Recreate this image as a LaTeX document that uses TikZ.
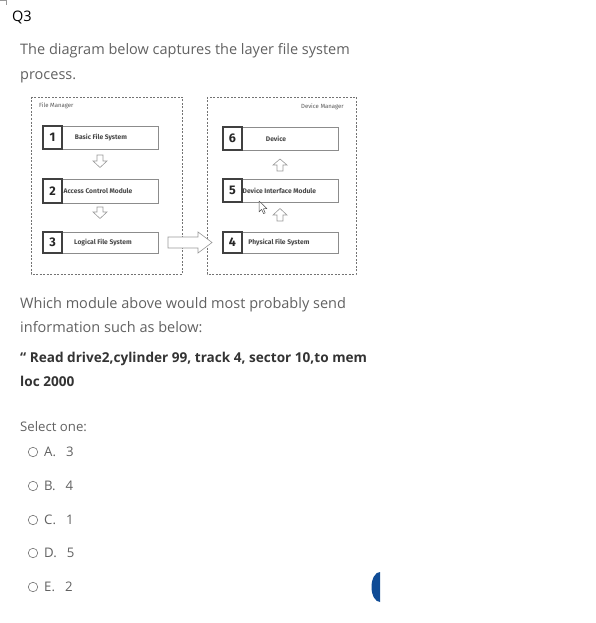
\documentclass[tikz,border=0pt]{standalone}
\usepackage{fontspec}
\setmainfont{Open Sans}
\newfontfamily\diafont{Fira Sans}
\begin{document}
\begin{tikzpicture}[x=1pt,y=-1pt,
  txt/.style={anchor=base west,inner sep=0pt,text=black!62,font=\fontsize{14.5}{17}\selectfont},
  boldtxt/.style={anchor=base west,inner sep=0pt,text=black!80,font=\fontsize{13.6}{16}\selectfont\bfseries},
  mgr/.style={draw=black!55,dash pattern=on 2pt off 1.5pt,line width=0.6pt},
  modbox/.style={draw=black!45,line width=0.6pt,fill=white},
  numbox/.style={draw=black!75,line width=1.1pt,inner sep=0pt,font=\diafont\fontsize{12.5}{12}\selectfont\bfseries,text=black!85},
  modlabel/.style={inner sep=0pt,font=\diafont\fontsize{6.7}{7}\selectfont\bfseries,text=black!72},
  mgrlabel/.style={inner sep=0pt,font=\diafont\fontsize{6}{7}\selectfont,text=black!65},
  blockarrow/.style={draw=black!40,line width=0.6pt,fill=white},
  radio/.style={draw=black!55,line width=0.6pt,circle,minimum size=9.5pt,inner sep=0pt},
  opt/.style={anchor=base west,inner sep=0pt,text=black!62,font=\fontsize{13.2}{16}\selectfont}]
\useasboundingbox (0,0) rectangle (595,623);
% corner mark
\draw[black!40,line width=0.6pt] (0,0.5) -- (6,0.5) -- (6,5);
% header
\node[anchor=base west,inner sep=0pt,font=\fontsize{14.5}{17}\selectfont,text=black] (q) at (12,22) {Q3};
\node[txt] (t1) at (20,55) {The diagram below captures the layer file system};
\node[txt] (t2) at (20,80) {process.};
% managers
\draw[mgr] (31,97) rectangle (182,274);
\draw[mgr] (207,97) rectangle (356,274);
\node[mgrlabel,anchor=west] (fm) at (39,106) {File Manager};
\node[mgrlabel,anchor=east] (dm) at (344,107) {Device Manager};
% left modules
\draw[modbox] (43,126) rectangle (158,149);
\node[numbox,minimum width=19pt,minimum height=23pt] (n1) at (52.5,137.5) {1};
\node[modlabel] (l1) at (101,137.5) {Basic File System};
\draw[modbox] (43,179) rectangle (158,203);
\node[numbox,minimum width=19pt,minimum height=24pt] (n2) at (52.5,191) {2};
\node[modlabel,anchor=west] (l2) at (63.5,191) {Access Control Module};
\draw[modbox] (43,232) rectangle (158,253);
\node[numbox,minimum width=19pt,minimum height=21pt] (n3) at (52.5,242.5) {3};
\node[modlabel] (l3) at (103,242.5) {Logical File System};
% right modules
\draw[modbox] (223,127) rectangle (338,150);
\node[numbox,minimum width=19pt,minimum height=23pt] (n6) at (232.5,138.5) {6};
\node[modlabel] (l6) at (276,138.5) {Device};
\draw[modbox] (223,179) rectangle (338,202);
\node[numbox,minimum width=19pt,minimum height=23pt] (n5) at (232.5,190.5) {5};
\node[modlabel,anchor=west] (l5) at (242.5,190.5) {Device Interface Module};
\draw[modbox] (223,232) rectangle (338,253);
\node[numbox,minimum width=19pt,minimum height=21pt] (n4) at (232.5,242.5) {4};
\node[modlabel] (l4) at (279,242.5) {Physical File System};
% down arrows
\draw[blockarrow] (97,155) -- (103,155) -- (103,161) -- (107,161) -- (100,167.5) -- (93,161) -- (97,161) -- cycle;
\draw[blockarrow] (97,207) -- (103,207) -- (103,212) -- (107,212) -- (100,218.5) -- (93,212) -- (97,212) -- cycle;
% up arrows
\draw[blockarrow] (277,171) -- (283,171) -- (283,165) -- (287,165) -- (280,159) -- (273,165) -- (277,165) -- cycle;
\draw[blockarrow] (277,221) -- (283,221) -- (283,215) -- (287,215) -- (280,208.5) -- (273,215) -- (277,215) -- cycle;
% right arrow
\draw[blockarrow] (168,237) -- (198,237) -- (198,232) -- (212,242.5) -- (198,253) -- (198,248) -- (168,248) -- cycle;
% cursor
\draw[fill=white,draw=black!70,line width=0.5pt,line join=round] (259,201) -- (259,212) -- (261.7,209.4) -- (263.6,213.6) -- (265.2,212.9) -- (263.4,208.8) -- (267,208.6) -- cycle;
% question
\node[txt] (w1) at (20,308) {Which module above would most probably send};
\node[txt] (w2) at (20,332) {information such as below:};
\node[boldtxt] (b1) at (20,362) {“ Read drive2,cylinder 99, track 4, sector 10,to mem};
\node[boldtxt] (b2) at (20,386) {loc 2000};
\node[opt] (sel) at (20,431) {Select one:};
% options
\node[radio] (ra) at (33,452) {};
\node[opt] (oa) at (44,456.5) {A.\hspace{10pt}3};
\node[radio] (rb) at (33,486) {};
\node[opt] (ob) at (44,490.5) {B.\hspace{10pt}4};
\node[radio] (rc) at (33,520) {};
\node[opt] (oc) at (44,524.5) {C.\hspace{10pt}1};
\node[radio] (rd) at (33,553) {};
\node[opt] (od) at (44,557.5) {D.\hspace{10pt}5};
\node[radio] (re) at (33,587) {};
\node[opt] (oe) at (44,591.5) {E.\hspace{10pt}2};
% blue half circle
\fill[fill={rgb,255:red,16;green,76;blue,150}] (380,572) arc[start angle=90,end angle=270,x radius=8.5,y radius=-15] -- cycle;
\end{tikzpicture}
\end{document}
